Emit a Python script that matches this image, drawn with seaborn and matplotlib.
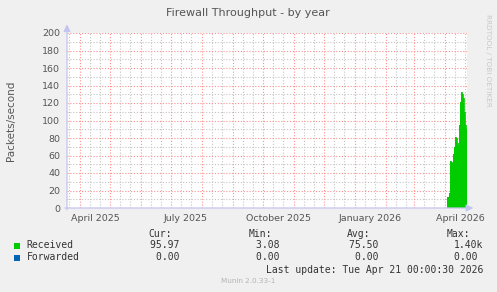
import numpy as np
import pandas as pd
import matplotlib
matplotlib.use("Agg")
import matplotlib.pyplot as plt
import matplotlib.dates as mdates
from matplotlib.patches import Rectangle
import seaborn as sns

# ---- data ----
title = "Firewall Throughput - by year"
ylabel = "Packets/second"
x_start = "2025-03-19"
x_end = "2026-04-23"
data_start = "2026-04-03"
received = [13, 13, 17, 54, 53, 52, 62, 70, 81, 80, 74, 72, 95, 121, 133, 130, 126, 110, 95, 90]
forwarded = [0.0] * len(received)
tick_dates = ["2025-04-16", "2025-07-16", "2025-10-16", "2026-01-16", "2026-04-16"]
tick_labels = ["April 2025", "July 2025", "October 2025", "January 2026", "April 2026"]
yticks = list(range(0, 201, 20))
legend_names = ["Received", "Forwarded"]
legend_colors = ["#00cc00", "#0066b3"]
cur_vals = ["95.97 ", "0.00 "]
min_vals = ["3.08 ", "0.00 "]
avg_vals = ["75.50 ", "0.00 "]
max_vals = ["1.40k", "0.00 "]
last_update = "Last update: Tue Apr 21 00:00:30 2026"
version = "Munin 2.0.33-1"
side_text = "RRDTOOL / TOBI OETIKER"

W, H = 497, 292
sns.set_theme(style="white")
plt.rcParams['font.family'] = ['DejaVu Sans']

fig = plt.figure(figsize=(W / 100, H / 100), dpi=100, facecolor="#f0f0f0")
L, R, T, B = 67, 467, 33, 208
ax = fig.add_axes([L / W, 1 - B / H, (R - L) / W, (B - T) / H])
ax.set_facecolor("white")

def fx(x):
    return x / W

def fy(y):
    return 1 - y / H

xs = pd.Timestamp(x_start)
xe = pd.Timestamp(x_end)
ax.set_xlim(xs, xe)
ax.set_ylim(0, 200)

# grid
axis_col = "#c4c4f0"
months = pd.date_range("2025-04-01", "2026-04-01", freq="MS")
minor_days = []
for m in pd.date_range("2025-03-01", "2026-04-01", freq="MS"):
    for d in (10, 20):
        t = m + pd.Timedelta(days=d)
        if xs < t < xe:
            minor_days.append(t)
dot = (0, (1, 1.6))
for t in minor_days:
    ax.axvline(t, color="#c4c4c4", lw=0.8, ls=dot, zorder=1)
for t in months:
    ax.axvline(t, color="#ff9090", lw=0.8, ls=dot, zorder=1.1)
for v in range(10, 201, 20):
    ax.axhline(v, color="#c4c4c4", lw=0.8, ls=dot, zorder=1)
for v in range(20, 201, 20):
    ax.axhline(v, color="#ff9090", lw=0.8, ls=dot, zorder=1.1)

# data
dates = pd.date_range(data_start, periods=len(received), freq="D")
df = pd.DataFrame({"date": dates, "Received": received, "Forwarded": forwarded})
edges = list(dates) + [dates[-1] + pd.Timedelta(days=1)]
vals = received + [received[-1]]
ax.fill_between(edges, 0, vals, step="post", color=legend_colors[0], lw=0, zorder=3)
sns.lineplot(data=df, x="date", y="Received", drawstyle="steps-post",
             color=legend_colors[0], lw=0.6, ax=ax, zorder=3)

# axes styling
for s in ax.spines.values():
    s.set_visible(False)
ax.set_xlabel("")
ax.set_ylabel(ylabel, fontsize=7.5, color="#555555", labelpad=19)
ax.set_yticks(yticks)
ax.set_yticklabels([str(v) for v in yticks], fontsize=6.8, color="#555555")
ax.set_yticks(list(range(10, 201, 20)), minor=True)
ax.tick_params(axis="y", which="both", direction="inout", length=4, width=0.8,
               color=axis_col, pad=3)
ax.set_xticks(pd.to_datetime(tick_dates))
ax.set_xticklabels(tick_labels, fontsize=6.8, color="#555555")
ax.tick_params(axis="x", which="major", length=0, pad=4)
ax.set_xticks(list(months) + minor_days, minor=True)
ax.tick_params(axis="x", which="minor", direction="inout", length=4, width=0.8, color=axis_col)

# axis lines with arrows
arrow = dict(arrowstyle="-|>,head_length=0.35,head_width=0.17",
             color=axis_col, lw=0.9, shrinkA=0, shrinkB=0)
ax.annotate("", xy=(1.016, 0), xytext=(-0.005, 0), xycoords="axes fraction",
            arrowprops=arrow, annotation_clip=False, zorder=5)
ax.annotate("", xy=(0, 1.05), xytext=(0, -0.01), xycoords="axes fraction",
            arrowprops=arrow, annotation_clip=False, zorder=5)

# title and side text
fig.text(fx(248), fy(13), title, ha="center", va="center", fontsize=8, color="#555555")
fig.text(fx(488), fy(14), side_text, rotation=270, ha="center", va="top",
         fontsize=5.2, color="#c8c8c8")

# legend block
mono = "DejaVu Sans Mono"
tc = "#333333"
fs = 7
fig.text(fx(172), fy(234), "Cur:", ha="right", va="center", family=mono, fontsize=fs, color=tc)
fig.text(fx(272), fy(234), "Min:", ha="right", va="center", family=mono, fontsize=fs, color=tc)
fig.text(fx(370), fy(234), "Avg:", ha="right", va="center", family=mono, fontsize=fs, color=tc)
fig.text(fx(470), fy(234), "Max:", ha="right", va="center", family=mono, fontsize=fs, color=tc)
rows_y = [245.5, 257.5]
for i, (name, col) in enumerate(zip(legend_names, legend_colors)):
    y = rows_y[i]
    fig.patches.append(Rectangle((fx(14), fy(y + 3)), 6 / W, 6 / H, transform=fig.transFigure,
                                 facecolor=col, edgecolor="none"))
    fig.text(fx(26.5), fy(y), name, ha="left", va="center", family=mono, fontsize=fs, color=tc)
    fig.text(fx(185), fy(y), cur_vals[i], ha="right", va="center", family=mono, fontsize=fs, color=tc)
    fig.text(fx(285), fy(y), min_vals[i], ha="right", va="center", family=mono, fontsize=fs, color=tc)
    fig.text(fx(384), fy(y), avg_vals[i], ha="right", va="center", family=mono, fontsize=fs, color=tc)
    fig.text(fx(483.5), fy(y), max_vals[i], ha="right", va="center", family=mono, fontsize=fs, color=tc)
fig.text(fx(483.5), fy(270), last_update, ha="right", va="center", family=mono, fontsize=fs, color=tc)
fig.text(fx(248), fy(281), version, ha="center", va="center", fontsize=5.2, color="#b4b4b4")

fig.savefig("out.png", dpi=100, facecolor=fig.get_facecolor())
